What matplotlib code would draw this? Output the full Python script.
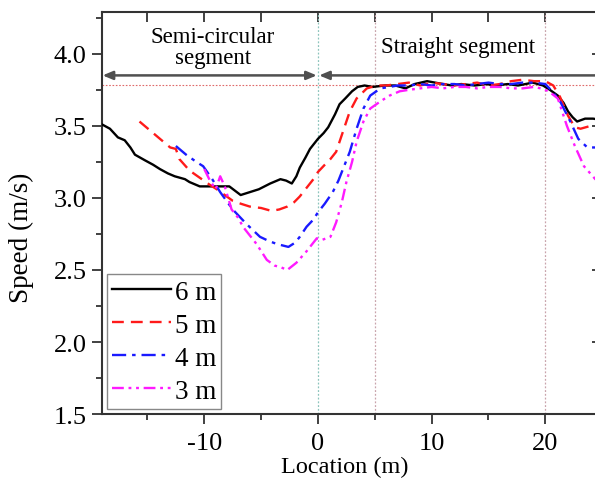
import numpy as np
import matplotlib
matplotlib.use("Agg")
import matplotlib.pyplot as plt

plt.rcParams["font.family"] = ["Liberation Serif", "DejaVu Serif"]
plt.rcParams["axes.unicode_minus"] = False

# ---- data ----
x_6m = [-19, -18.3, -17.6, -17.0, -16.5, -16.1, -15.2, -14.5, -13.9, -13.2, -12.6, -11.7,
        -11.3, -10.4, -9.5, -8.5, -7.8, -7.3, -6.8, -6.0, -5.2, -4.2, -3.3, -2.8, -2.3,
        -1.9, -1.6, -1.1, -0.7, 0, 0.5, 0.9, 1.5, 1.9, 2.4, 3.0, 3.5, 4.1, 4.8, 5.9, 6.8,
        7.7, 8.5, 9.6, 10.3, 11.0, 11.8, 12.6, 13.8, 14.8, 15.6, 16.7, 17.6, 18.9, 19.8,
        20.4, 21.1, 21.6, 22.0, 22.4, 22.8, 23.5, 24.2, 25]
y_6m = [3.51, 3.48, 3.42, 3.40, 3.35, 3.30, 3.26, 3.23, 3.20, 3.17, 3.15, 3.13,
        3.11, 3.08, 3.08, 3.08, 3.08, 3.05, 3.02, 3.04, 3.06, 3.10, 3.13, 3.12, 3.10,
        3.15, 3.21, 3.28, 3.34, 3.41, 3.45, 3.49, 3.58, 3.65, 3.69, 3.74, 3.77, 3.78, 3.77, 3.78, 3.78,
        3.76, 3.79, 3.81, 3.80, 3.79, 3.78, 3.79, 3.78, 3.79, 3.78, 3.79, 3.78, 3.80, 3.78,
        3.75, 3.71, 3.66, 3.60, 3.56, 3.53, 3.55, 3.55, 3.54]

x_5m = [-15.7, -14.8, -13.9, -13.0, -12.5, -12.2, -11.3, -10.4, -9.5, -8.9, -8.2, -7.5,
        -6.8, -6.0, -5.0, -4.1, -3.4, -2.7, -2.1, -1.6, -1.0, -0.4, 0, 0.6, 1.1, 1.6,
        2.2, 2.8, 3.4, 4.3, 5.2, 6.0, 7.0, 8.0, 9.0, 10.0, 11.0, 12.0, 13.0, 14.0,
        15.0, 16.0, 17.0, 18.0, 19.0, 20.0, 20.7, 21.3, 22.0, 22.6, 23.1, 24.0, 25]
y_5m = [3.53, 3.47, 3.41, 3.35, 3.34, 3.27, 3.19, 3.14, 3.09, 3.06, 3.02, 2.98,
        2.96, 2.94, 2.93, 2.91, 2.92, 2.94, 2.97, 3.01, 3.07, 3.13, 3.18, 3.23, 3.27, 3.32,
        3.46, 3.60, 3.69, 3.76, 3.78, 3.78, 3.79, 3.80, 3.78, 3.80, 3.79, 3.78,
        3.79, 3.80, 3.78, 3.79, 3.81, 3.82, 3.81, 3.81, 3.78, 3.70, 3.57, 3.49, 3.48, 3.50, 3.51]

x_4m = [-12.5, -11.6, -10.7, -10.1, -9.3, -8.6, -7.5, -6.3, -5.1, -4.3, -3.6, -2.6,
        -2.0, -1.6, -1.0, -0.4, 0, 0.6, 1.3, 1.8, 2.2, 2.8, 3.4, 4.0, 4.6, 5.5, 6.3,
        7.0, 8.0, 9.0, 10.0, 11.0, 12.0, 13.0, 14.0, 15.0, 16.0, 17.0, 18.0, 19.0,
        20.0, 20.6, 21.3, 22.2, 22.9, 23.7, 24.4, 25]
y_4m = [3.36, 3.30, 3.25, 3.22, 3.13, 3.04, 2.92, 2.82, 2.73, 2.70, 2.68, 2.66,
        2.69, 2.73, 2.80, 2.85, 2.90, 2.96, 3.04, 3.12, 3.20, 3.32, 3.48, 3.62, 3.71, 3.76, 3.77,
        3.78, 3.78, 3.79, 3.78, 3.79, 3.79, 3.78, 3.79, 3.80, 3.79, 3.79, 3.80, 3.80,
        3.79, 3.74, 3.67, 3.53, 3.41, 3.35, 3.35, 3.35]

x_3m = [-10.0, -9.5, -9.0, -8.6, -8.2, -7.6, -7.0, -6.6, -6.0, -5.4, -4.5, -3.8, -3.3,
        -2.7, -1.9, -1.0, -0.1, 0.4, 1.1, 1.6, 2.1, 2.5, 3.0, 3.4, 4.0, 4.6, 5.5, 6.3,
        7.2, 8.0, 9.0, 10.0, 11.0, 12.0, 13.0, 14.0, 15.0, 16.0, 17.0, 18.0, 19.0,
        19.6, 20.3, 21.1, 21.9, 22.6, 23.4, 24.4, 25]
y_3m = [3.20, 3.12, 3.06, 3.15, 3.08, 2.92, 2.86, 2.80, 2.74, 2.68, 2.57, 2.53, 2.52,
        2.50, 2.55, 2.63, 2.72, 2.71, 2.73, 2.83, 2.97, 3.11, 3.25, 3.39, 3.53, 3.62, 3.67, 3.71,
        3.74, 3.75, 3.76, 3.77, 3.76, 3.77, 3.77, 3.76, 3.77, 3.77, 3.76, 3.76, 3.77,
        3.76, 3.74, 3.69, 3.50, 3.36, 3.22, 3.13, 3.10]

labels = ["6 m", "5 m", "4 m", "3 m"]
colors = ["black", "#ff1a1a", "#1a1aff", "#ff1aff"]
dashes = [(None), (5, 3), (6, 2.5, 1.5, 2.5), (5, 2, 1.2, 2, 1.2, 2)]

segment_edges = [0, 5, 20]
ref_speed = 3.78
arrow_y = 3.85

fig = plt.figure(figsize=(5.95, 4.81), dpi=100)
ax = fig.add_axes([0.1714, 0.137, 0.8406, 0.836])

for xs, ys, lab, col, d in zip([x_6m, x_5m, x_4m, x_3m], [y_6m, y_5m, y_4m, y_3m],
                               labels, colors, dashes):
    line, = ax.plot(xs, ys, color=col, lw=1.7, label=lab, zorder=3)
    if d is not None:
        line.set_dashes(d)

# reference lines
ax.axvline(segment_edges[0], color="#8cc4bc", lw=0.9, ls=(0, (1.5, 1.5)), zorder=1)
for xv in segment_edges[1:]:
    ax.axvline(xv, color="#c9a4ac", lw=0.9, ls=(0, (1.5, 1.5)), zorder=1)
ax.axhline(ref_speed, color="#e06a6a", lw=0.8, ls=(0, (1.5, 1.5)), zorder=1)

# segment arrows
arrow_kw = dict(arrowstyle="<|-|>,head_length=0.6,head_width=0.25", color="#505050", lw=1.8,
                shrinkA=0, shrinkB=0)
ax.annotate("", xy=(-18.95, arrow_y), xytext=(-0.1, arrow_y), arrowprops=arrow_kw)
ax.annotate("", xy=(0.1, arrow_y), xytext=(26, arrow_y), arrowprops=arrow_kw,
            annotation_clip=False)
ax.text(-9.25, 4.05, "Semi-circular\nsegment", ha="center", va="center", fontsize=16.5,
        linespacing=1.0)
ax.text(12.3, 4.05, "Straight segment", ha="center", va="center", fontsize=16.5)

ax.set_xlim(-19, 25)
ax.set_ylim(1.5, 4.29)
ax.set_xticks([-10, 0, 10, 20])
ax.set_xticks([-15, -5, 5, 15], minor=True)
ax.set_yticks([1.5, 2.0, 2.5, 3.0, 3.5, 4.0])
ax.set_yticks([1.75, 2.25, 2.75, 3.25, 3.75, 4.25], minor=True)
ax.set_yticklabels(["1.5", "2.0", "2.5", "3.0", "3.5", "4.0"])

ax.tick_params(which="both", direction="out", labelsize=19, width=1.3, color="#333333",
               top=False, right=False)
ax.tick_params(axis="x", pad=6)
ax.tick_params(axis="y", pad=4)
ax.tick_params(which="major", length=7)
ax.tick_params(which="minor", length=4)
for s in ax.spines.values():
    s.set_linewidth(1.5)
    s.set_color("#333333")

# inward ticks on top and right sides
top = ax.secondary_xaxis("top")
top.set_xticks([-10, 0, 10, 20])
top.set_xticks([-15, -5, 5, 15], minor=True)
top.tick_params(which="both", direction="in", labeltop=False, width=1.3, color="#333333",
                length=7)
top.spines["top"].set_visible(False)
right = ax.secondary_yaxis("right")
right.set_yticks([1.5, 2.0, 2.5, 3.0, 3.5, 4.0])
right.tick_params(which="both", direction="in", labelright=False, length=7, width=1.3,
                  color="#333333")
right.spines["right"].set_visible(False)

ax.set_xlabel("Location (m)", fontsize=17.5)
ax.xaxis.set_label_coords(0.486, -0.103)
ax.set_ylabel("Speed (m/s)", fontsize=19.5)
ax.yaxis.set_label_coords(-0.135, 0.44)

leg = ax.legend(loc="upper left", bbox_to_anchor=(0.01, 0.348), borderaxespad=0,
                fontsize=19.5, handlelength=2.15, handletextpad=0.15, labelspacing=0.3,
                borderpad=0.2, fancybox=False, framealpha=1, edgecolor="#888888")
leg.get_frame().set_linewidth(1.0)

fig.savefig("out.png", dpi=100)
